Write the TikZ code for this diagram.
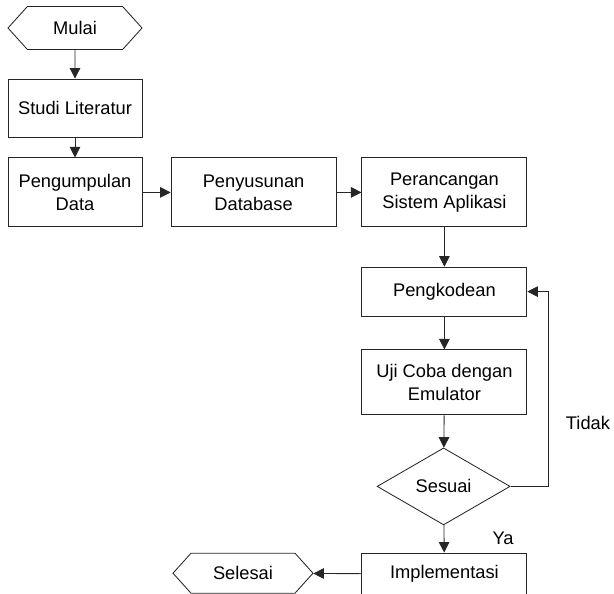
\documentclass[tikz,border=0pt]{standalone}
\usepackage{fontspec}
\setmainfont{Liberation Sans}
\usetikzlibrary{shapes.geometric,shapes.symbols,arrows.meta}

\begin{document}
\begin{tikzpicture}[
    proses/.style ={rectangle, draw=black!85, align=center, inner sep=0pt, minimum width=4.125cm},
    terminal/.style ={signal, signal to=west and east, signal pointer angle=96, draw=black!85, inner sep=0pt},
    keputusan/.style ={diamond, draw=black!85, inner sep=0pt, minimum width=3.325cm, minimum height=1.925cm},
    panah/.style ={draw=black!85, -{Triangle[length=7.5pt,width=7.5pt]}},
    line width=0.6pt,
    font=\fontsize{13}{16.3}\selectfont]
   \useasboundingbox (0,0) rectangle (15.35,-14.825);
   \node[terminal, minimum width=3.35cm, minimum height=1.075cm] (mulai) at (1.875,-0.7) {Mulai};
   \node[proses, minimum width=3.35cm, minimum height=1.45cm] (studi) at (1.875,-2.7) {Studi Literatur};
   \node[proses, minimum width=3.35cm, minimum height=1.725cm] (kumpul) at (1.875,-4.81) {Pengumpulan\\Data};
   \node[proses, minimum height=1.725cm] (susun) at (6.34,-4.81) {Penyusunan\\Database};
   \node[proses, minimum height=1.725cm] (rancang) at (11.11,-4.81) {Perancangan\\Sistem Aplikasi};
   \node[proses, minimum height=1.225cm] (kode) at (11.11,-7.29) {Pengkodean};
   \node[proses, minimum height=1.625cm] (uji) at (11.11,-9.56) {Uji Coba dengan\\Emulator};
   \node[keputusan] (sesuai) at (11.09,-12.16) {Sesuai};
   \node[proses, minimum height=1.05cm] (impl) at (11.11,-14.35) {Implementasi};
   \node[terminal, minimum width=3.5cm, minimum height=1cm] (selesai) at (6.075,-14.33) {Selesai};
   \node (ya) at (12.575,-13.45) {Ya};
   \node (tidak) at (14.7,-10.575) {Tidak};
   \coordinate (balik) at (13.7,-12.16);
   \draw[panah] (mulai) -- (studi);
   \draw[panah] (studi) -- (kumpul);
   \draw[panah] (kumpul) -- (susun);
   \draw[panah] (susun) -- (rancang);
   \draw[panah] (rancang) -- (kode);
   \draw[panah] (kode) -- (uji);
   \draw[panah] (uji) -- (sesuai);
   \draw[panah] (sesuai) -- (impl);
   \draw[panah] (impl) -- (selesai);
   \draw[panah] (sesuai.east) -- (balik) |- (kode.east);
\end{tikzpicture}
\end{document}
